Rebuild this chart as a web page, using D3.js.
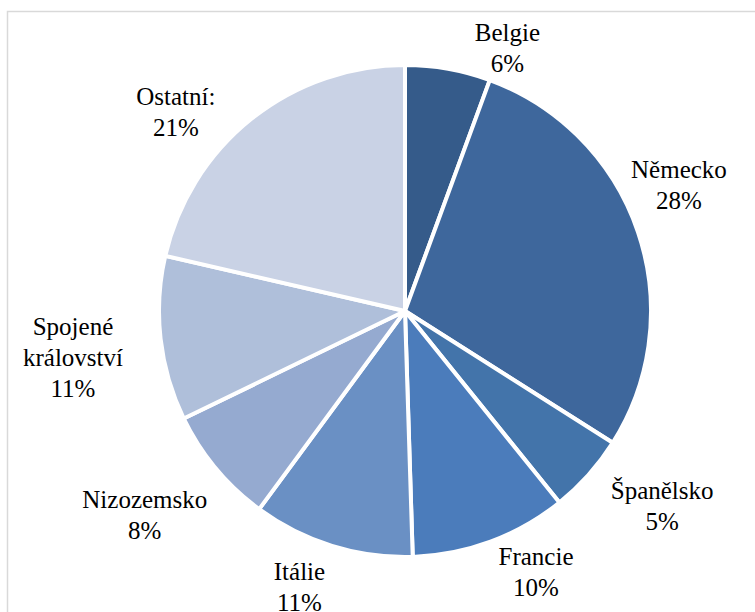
<!DOCTYPE html>
<html>
<head>
<meta charset="utf-8">
<script src="https://cdnjs.cloudflare.com/ajax/libs/d3/7.8.5/d3.min.js"></script>
<style>
  body { margin: 0; background: #fff; }
  svg { display: block; }
  text.label { font-family: "Liberation Serif", "DejaVu Serif", serif; }
</style>
</head>
<body>
<svg id="chart" width="755" height="612"></svg>
<script>
// shares, clockwise from 12 o'clock
let countries = ['Belgie', 'Německo', 'Španělsko', 'Francie', 'Itálie', 'Nizozemsko', 'Spojené království', 'Ostatní:'];
let shares = [5.6, 28.4, 5.2, 10.3, 10.6, 7.7, 10.8, 21.4];
let labelLines = [['Belgie'], ['Německo'], ['Španělsko'], ['Francie'], ['Itálie'], ['Nizozemsko'], ['Spojené', 'království'], ['Ostatní:']];
let colors = ['#355b8a', '#3e679c', '#4374aa', '#4b7cbb', '#6a90c4', '#95aad0', '#afbfda', '#c9d2e5'];

// label nudges (px) so labels sit roughly where the original placed them
let nudges = [[52, 19], [-4, -33], [30, 5], [29, -6], [-20, 4], [-22, 22], [-24, 13], [-43, 25]];

let svg = d3.select('#chart');
let cx = 405, cy = 311, r = 246;

// frame (runs off the right and bottom edges)
svg.append('rect')
  .attr('x', 7.5).attr('y', 11.5)
  .attr('width', 800).attr('height', 700)
  .attr('fill', 'none')
  .attr('stroke', '#d9d9d9')
  .attr('stroke-width', 1.5);

let data = countries.map((c, i) => ({ name: c, value: shares[i], lines: labelLines[i], i: i }));

let pie = d3.pie().sort(null).value(d => d.value);
let arc = d3.arc().innerRadius(0).outerRadius(r);
let arcs = pie(data);

let g = svg.append('g').attr('transform', 'translate(' + cx + ',' + cy + ')');

g.selectAll('path')
  .data(arcs).enter()
  .append('path')
  .attr('d', arc)
  .attr('fill', d => colors[d.data.i])
  .attr('stroke', '#fff')
  .attr('stroke-width', 4)
  .attr('stroke-linejoin', 'round');

let lineH = 31;
g.selectAll('.label')
  .data(arcs).enter()
  .append('text')
  .attr('class', 'label')
  .style('font-family', '"Liberation Serif", "DejaVu Serif", serif')
  .style('font-size', '25px')
  .attr('fill', '#000')
  .attr('text-anchor', 'middle')
  .each(function(d) {
    let t = d3.select(this);
    let lines = d.data.lines.concat([Math.round(d.data.value) + '%']);
    let mid = (d.startAngle + d.endAngle) / 2;
    let dx = Math.sin(mid), dy = -Math.cos(mid);
    let w = 0;
    lines.forEach(l => { w = Math.max(w, l.length * 11); });
    let h = lines.length * lineH;
    let x = dx * (r + 9) + dx * w / 2 + nudges[d.data.i][0];
    let y = dy * (r + 9) + dy * h / 2 + nudges[d.data.i][1];
    let y0 = y - h / 2 + lineH * 0.75;
    lines.forEach((l, k) => {
      t.append('tspan')
        .attr('x', x)
        .attr('y', y0 + k * lineH)
        .text(l);
    });
  });
</script>
</body>
</html>
